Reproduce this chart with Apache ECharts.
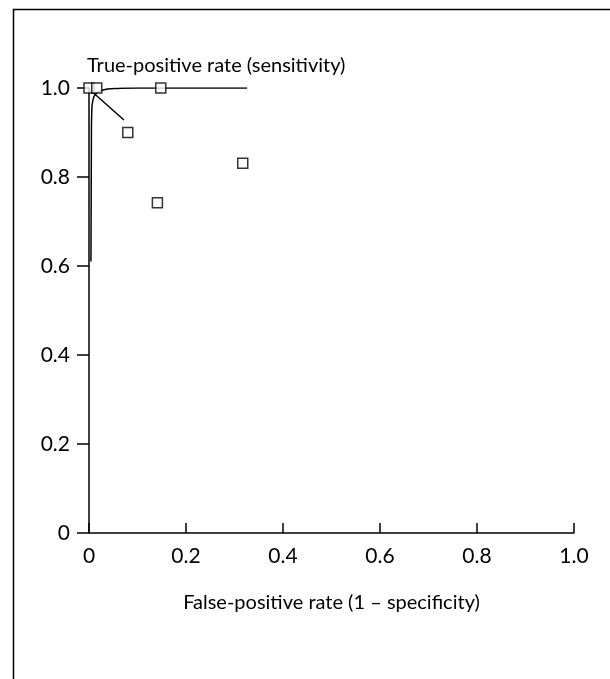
<!DOCTYPE html>
<html>
<head>
<meta charset="utf-8">
<script src="https://cdn.jsdelivr.net/npm/echarts@6/dist/echarts.min.js"></script>
<style>
  html, body { margin: 0; padding: 0; background: #fff; }
  #chart { width: 610px; height: 679px; }
</style>
</head>
<body>
<div id="chart"></div>
<script>
// study points (false-positive rate, true-positive rate)
var studyFpr = [0.0, 0.016, 0.148, 0.08, 0.141, 0.317]
var studyTpr = [1.0, 1.0, 1.0, 0.9, 0.742, 0.831]

// summary ROC curve
var curveFpr = [0.004, 0.005, 0.006, 0.008, 0.012, 0.02, 0.035, 0.06, 0.1, 0.326]
var curveTpr = [0.61, 0.9, 0.955, 0.972, 0.984, 0.992, 0.997, 0.999, 1.0, 1.0]

// leader line from the curve knee
var leaderFpr = [0.003, 0.072]
var leaderTpr = [0.995, 0.928]

var tickLabels = { 0: '0', 0.2: '0.2', 0.4: '0.4', 0.6: '0.6', 0.8: '0.8', 1: '1.0' }

function pairs (xs, ys) {
  return xs.map(function (x, i) { return [x, ys[i]] })
}

var font = 'Lato, "Open Sans", sans-serif'
var chart = echarts.init(document.getElementById('chart'))

chart.setOption({
  animation: false,
  backgroundColor: '#fff',
  textStyle: { fontFamily: font, color: '#000' },
  grid: {
    left: 89,
    right: 36,
    top: 88,
    bottom: 146
  },
  graphic: [{
    type: 'rect',
    left: 11,
    top: 7,
    shape: { width: 640, height: 720 },
    style: { fill: 'none', stroke: '#000', lineWidth: 1.5 },
    silent: true
  }],
  xAxis: {
    type: 'value',
    min: 0,
    max: 1,
    interval: 0.2,
    name: 'False-positive rate (1 – specificity)',
    nameLocation: 'middle',
    nameGap: 60,
    nameTextStyle: { fontSize: 20, color: '#000', fontFamily: font },
    axisLine: { lineStyle: { color: '#000', width: 1.5 } },
    axisTick: { inside: true, length: 10, lineStyle: { color: '#000', width: 1.5 } },
    axisLabel: {
      fontSize: 21,
      color: '#000',
      margin: 13,
      formatter: function (v) { return tickLabels[v] }
    },
    splitLine: { show: false }
  },
  yAxis: {
    type: 'value',
    min: 0,
    max: 1,
    interval: 0.2,
    name: 'True-positive rate (sensitivity)',
    nameLocation: 'end',
    nameGap: 12,
    nameTextStyle: { fontSize: 20, color: '#000', fontFamily: font, align: 'left', padding: [0, 0, 0, -2] },
    axisLine: { show: true, lineStyle: { color: '#000', width: 1.5 } },
    axisTick: { show: true, length: 12, lineStyle: { color: '#000', width: 1.5 } },
    axisLabel: {
      fontSize: 21,
      color: '#000',
      margin: 19,
      formatter: function (v) { return tickLabels[v] }
    },
    splitLine: { show: false }
  },
  series: [{
    name: 'curve',
    type: 'line',
    smooth: true,
    showSymbol: false,
    lineStyle: { color: '#000', width: 1.5 },
    data: pairs(curveFpr, curveTpr)
  }, {
    name: 'leader',
    type: 'line',
    showSymbol: false,
    lineStyle: { color: '#000', width: 1.5 },
    data: pairs(leaderFpr, leaderTpr)
  }, {
    name: 'studies',
    type: 'scatter',
    symbol: 'rect',
    symbolSize: 10,
    itemStyle: { color: '#fff', borderColor: '#000', borderWidth: 1.5 },
    z: 5,
    data: pairs(studyFpr, studyTpr)
  }]
})
</script>
</body>
</html>
